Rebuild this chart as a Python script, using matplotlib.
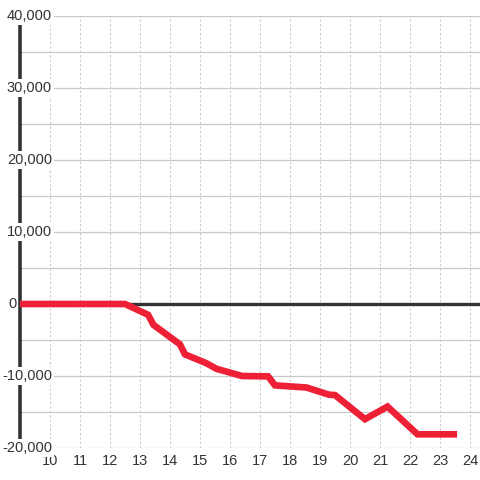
import matplotlib
matplotlib.use("Agg")
import matplotlib.pyplot as plt

# data
hours = [9.0, 12.5, 13.27, 13.45, 14.33, 14.5, 15.2, 15.55, 16.4, 17.27, 17.5,
         18.55, 19.3, 19.5, 20.5, 21.25, 22.25, 23.57]
values = [0, 0, -1500, -2900, -5600, -7000, -8200, -9000, -10000, -10050, -11300,
          -11600, -12600, -12650, -16000, -14250, -18100, -18100]
x_ticks = list(range(10, 25))
y_ticks = list(range(-20000, 40001, 5000))
y_labels = [-20000, -10000, 0, 10000, 20000, 30000, 40000]

plt.rcParams['font.family'] = ['Liberation Sans', 'DejaVu Sans']

fig = plt.figure(figsize=(4.8, 4.8), dpi=100)
ax = fig.add_axes([20 / 480, 32 / 480, 460 / 480, 432 / 480])
ax.set_xlim(9, 9 + 460 / 30)
ax.set_ylim(-20000, 40000)
for s in ax.spines.values():
    s.set_visible(False)
ax.set_xticks([])
ax.set_yticks([])

grid_c = '#c9c9c9'
for y in y_ticks:
    ax.axhline(y, color=grid_c, linewidth=0.9, zorder=1)
for x in x_ticks:
    ax.axvline(x, color=grid_c, linewidth=0.8, linestyle=(0, (2, 2)), zorder=1)

# axis lines
ax.axhline(0, color='#333333', linewidth=2.4, zorder=2)
ax.plot([9, 9], [-20000, 40000], color='#333333', linewidth=2.6, zorder=2,
        solid_capstyle='butt', clip_on=False)

# series
ax.plot(hours, values, color='#ee2036', linewidth=4.8, zorder=3,
        solid_joinstyle='miter', solid_capstyle='butt', clip_on=False)

# y labels
for v in y_labels:
    if v == 0:
        off, ha = (-12, 0), 'left'
    else:
        off, ha = (32, 0), 'right'
    ax.annotate(f"{v:,}", xy=(9, v), xytext=off, textcoords='offset pixels',
                ha=ha, va='center', fontsize=10.5, color='#333333', zorder=5,
                annotation_clip=False,
                bbox=dict(boxstyle='square,pad=0.12', fc='white', ec='none'))

# x labels
for x in x_ticks:
    ax.annotate(str(x), xy=(x, -20000), xytext=(0, -13), textcoords='offset pixels',
                ha='center', va='center', fontsize=10.5, color='#333333',
                annotation_clip=False)

fig.savefig("out.png", dpi=100, facecolor='white')
